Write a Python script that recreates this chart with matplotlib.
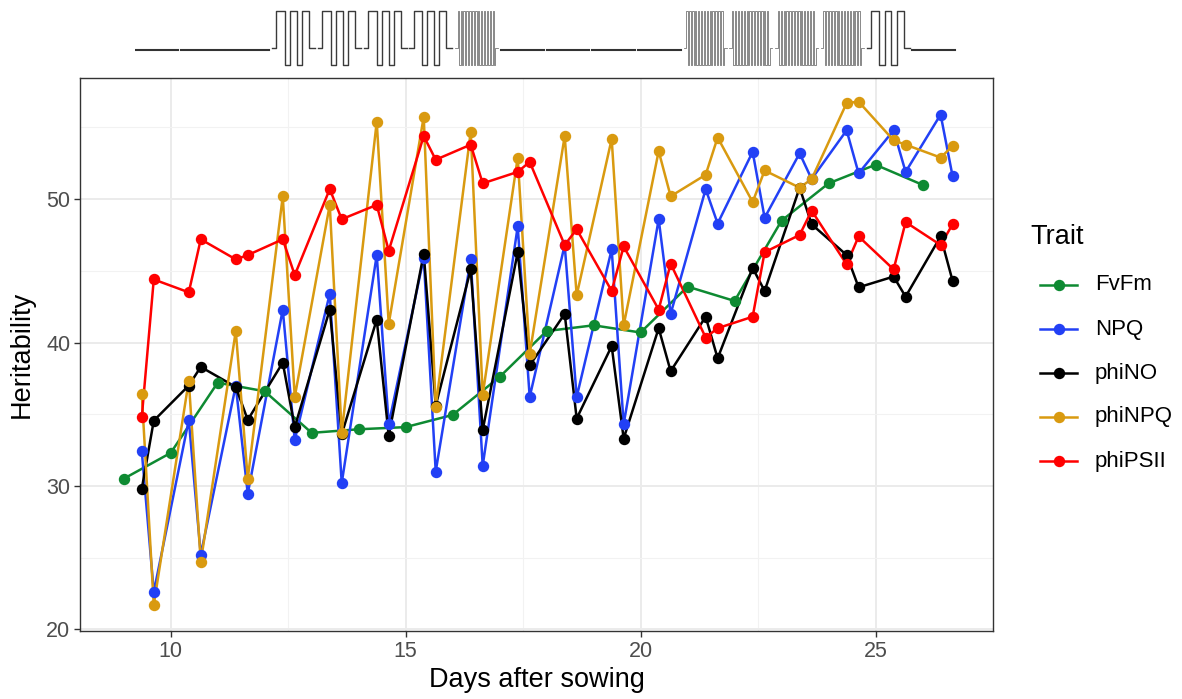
import matplotlib
matplotlib.use("Agg")
import matplotlib.pyplot as plt
from matplotlib.lines import Line2D

plt.rcParams['font.family'] = ['Liberation Sans', 'DejaVu Sans']

# ---- data -----------------------------------------------------------------
fvfm_days = [9, 10, 11, 12, 13, 14, 15, 16, 17, 18, 19, 20, 21, 22, 23, 24, 25, 26]
fvfm = [30.5, 32.3, 37.2, 36.6, 33.7, 33.95, 34.1, 34.95, 37.6, 40.8,
        41.2, 40.7, 43.9, 42.9, 48.5, 51.1, 52.4, 51.0]

# two PAM measurements per day (morning / afternoon)
pam_times = [9.385, 9.64, 10.385, 10.64, 11.385, 11.64, 12.385, 12.64,
             13.385, 13.64, 14.385, 14.64, 15.385, 15.64, 16.385, 16.64,
             17.385, 17.64, 18.385, 18.64, 19.385, 19.64, 20.385, 20.64,
             21.385, 21.64, 22.385, 22.64, 23.385, 23.64, 24.385, 24.64,
             25.385, 25.64, 26.385, 26.64]

npq = [32.4, 22.6, 34.6, 25.2, 37.0, 29.45, 42.3, 33.2, 43.4, 30.2,
       46.1, 34.3, 45.9, 31.0, 45.8, 31.4, 48.1, 36.2, 46.8, 36.2,
       46.5, 34.3, 48.6, 42.0, 50.7, 48.3, 53.3, 48.7, 53.2, 51.4,
       54.8, 51.8, 54.8, 51.9, 55.9, 51.6]

phino = [29.8, 34.55, 37.0, 38.3, 36.9, 34.6, 38.6, 34.1, 42.3, 33.6,
         41.6, 33.5, 46.2, 35.6, 45.1, 33.9, 46.3, 38.4, 42.0, 34.7,
         39.75, 33.3, 41.0, 38.0, 41.8, 38.9, 45.2, 43.6, 50.8, 48.25,
         46.1, 43.85, 44.6, 43.2, 47.4, 44.3]

phinpq = [36.4, 21.7, 37.35, 24.7, 40.8, 30.5, 50.2, 36.2, 49.6, 33.7,
          55.4, 41.3, 55.75, 35.5, 54.7, 36.35, 52.9, 39.2, 54.4, 43.3,
          54.2, 41.2, 53.35, 50.2, 51.7, 54.3, 49.8, 52.0, 50.8, 51.4,
          56.7, 56.8, 54.1, 53.8, 52.9, 53.7]

phipsii = [34.8, 44.4, 43.5, 47.2, 45.8, 46.1, 47.2, 44.7, 50.7, 48.6,
           49.6, 46.4, 54.4, 52.75, 53.8, 51.1, 51.9, 52.6, 46.8, 47.9,
           43.6, 46.7, 42.3, 45.5, 40.35, 41.0, 41.8, 46.3, 47.5, 49.2,
           45.45, 47.4, 45.1, 48.4, 46.8, 48.25]

traits = ['FvFm', 'NPQ', 'phiNO', 'phiNPQ', 'phiPSII']
trait_colors = ['#0E8A32', '#2240F5', '#000000', '#D99A10', '#FF0000']

# daily light regime shown above the panel (days 9 to 26)
light_regime = ['constant', 'constant', 'constant',
                'fluctuating', 'fluctuating', 'fluctuating', 'fluctuating',
                'rapid',
                'constant', 'constant', 'constant', 'constant',
                'rapid', 'rapid', 'rapid', 'rapid',
                'fluctuating', 'constant']

# ---- figure ---------------------------------------------------------------
W, H = 1182, 699
fig = plt.figure(figsize=(W / 100, H / 100), dpi=100)
fig.patch.set_facecolor('white')

ax = fig.add_axes([80 / W, 1 - 631 / H, (993 - 80) / W, (631 - 78) / H])

series = [(fvfm_days, fvfm), (pam_times, npq), (pam_times, phino),
          (pam_times, phinpq), (pam_times, phipsii)]

for (x, y), c in zip(series, trait_colors):
    ax.plot(x, y, color=c, lw=1.8, zorder=2, solid_capstyle='butt')
for (x, y), c in zip(series, trait_colors):
    ax.plot(x, y, ls='none', marker='o', ms=7.2, color=c, mec=c, zorder=3)

ax.set_xlim(8.07, 27.5)
ax.set_ylim(19.88, 58.45)
ax.set_xticks([10, 15, 20, 25])
ax.set_xticks([12.5, 17.5, 22.5], minor=True)
ax.set_yticks([20, 30, 40, 50])
ax.set_yticks([25, 35, 45, 55], minor=True)
ax.grid(which='major', color='#EBEBEB', lw=1.4)
ax.grid(which='minor', color='#F2F2F2', lw=0.8)
ax.set_axisbelow(True)

ax.tick_params(which='major', length=4, width=1.0, color='#333333',
               labelsize=15.5, labelcolor='#4D4D4D', pad=3)
ax.tick_params(which='minor', length=0)
for s in ax.spines.values():
    s.set_color('#333333')
    s.set_linewidth(1.0)

ax.set_xlabel('Days after sowing', fontsize=19.5, labelpad=4)
ax.set_ylabel('Heritability', fontsize=19.5, labelpad=8)

# ---- legend ---------------------------------------------------------------
fig.text(1030 / W, 1 - 237 / H, 'Trait', fontsize=19.5, ha='left', va='center')
for i, (name, c) in enumerate(zip(traits, trait_colors)):
    yk = 1 - (285 + i * 44) / H
    fig.add_artist(Line2D([1040 / W, 1077 / W], [yk, yk], color=c, lw=1.8,
                          transform=fig.transFigure))
    fig.add_artist(Line2D([1058.5 / W], [yk], color=c, marker='o', ms=7.2,
                          transform=fig.transFigure))
    fig.text(1095 / W, yk, name, fontsize=16, ha='left', va='center')

# ---- light regime strip ---------------------------------------------------
strip = fig.add_axes([135 / W, 1 - 68 / H, (958 - 135) / W, 60 / H])
strip.set_xlim(0, 18)
strip.set_ylim(0, 1)
strip.axis('off')

HIGH, LOW, FLAT, MID = 0.95, 0.05, 0.30, 0.33
seg_w = 0.94
fluct_steps = [(0.0, MID), (0.10, HIGH), (0.30, LOW), (0.42, HIGH),
               (0.58, LOW), (0.70, HIGH), (0.86, MID), (1.0, MID)]
rapid_steps = [(0.0, MID)]
n_rapid = 13
for k in range(2 * n_rapid):
    rapid_steps.append((0.06 + k * 0.88 / (2 * n_rapid), HIGH if k % 2 == 0 else LOW))
rapid_steps += [(0.94, MID), (1.0, MID)]

for i, regime in enumerate(light_regime):
    if regime == 'constant':
        strip.plot([i, i + seg_w], [FLAT, FLAT], color='#333333', lw=1.5)
    elif regime == 'fluctuating':
        xs = [i + f * seg_w for f, _ in fluct_steps]
        ys = [v for _, v in fluct_steps]
        strip.plot(xs, ys, drawstyle='steps-post', color='#3a3a3a', lw=1.0)
    else:
        xs = [i + f * seg_w for f, _ in rapid_steps]
        ys = [v for _, v in rapid_steps]
        strip.plot(xs, ys, drawstyle='steps-post', color='#6a6a6a', lw=0.55)

fig.savefig('out.png', dpi=100, facecolor='white')
